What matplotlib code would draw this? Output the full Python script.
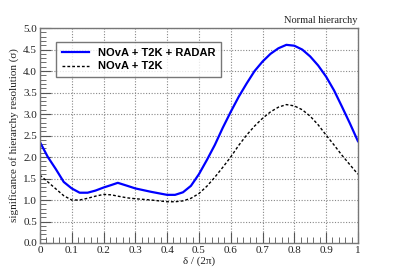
import matplotlib
matplotlib.use("Agg")
import matplotlib.pyplot as plt
from matplotlib.ticker import MultipleLocator, FormatStrFormatter

delta = [0, 0.025, 0.05, 0.075, 0.1, 0.125, 0.15, 0.175, 0.2, 0.225, 0.245, 0.275, 0.3, 0.35, 0.4,
         0.425, 0.45, 0.475, 0.5, 0.525, 0.55, 0.575, 0.6, 0.625, 0.65, 0.675, 0.7, 0.725, 0.75,
         0.775, 0.8, 0.825, 0.85, 0.875, 0.9, 0.925, 0.95, 0.975, 1.0]
radar = [2.35, 2.0, 1.72, 1.42, 1.27, 1.17, 1.17, 1.22, 1.29, 1.35, 1.40, 1.33, 1.27, 1.19, 1.12,
         1.12, 1.18, 1.33, 1.6, 1.93, 2.28, 2.68, 3.05, 3.4, 3.71, 4.0, 4.22, 4.4, 4.53,
         4.61, 4.59, 4.5, 4.34, 4.13, 3.87, 3.55, 3.17, 2.78, 2.37]
nova_t2k = [1.58, 1.42, 1.26, 1.1, 1.0, 1.0, 1.04, 1.09, 1.13, 1.12, 1.09, 1.05, 1.03, 1.0, 0.96,
            0.96, 0.98, 1.04, 1.15, 1.32, 1.53, 1.76, 2.0, 2.27, 2.51, 2.72, 2.9, 3.05, 3.16,
            3.22, 3.19, 3.1, 2.95, 2.75, 2.51, 2.28, 2.04, 1.82, 1.6]
labels = ["NOvA + T2K + RADAR", "NOvA + T2K"]

fig = plt.figure(figsize=(3.99, 2.70), dpi=100)
ax = fig.add_axes([0.1, 0.1, 0.797, 0.796])
serif = "Liberation Serif"

ax.plot(delta, radar, color="#0000ff", lw=1.6, label=labels[0])
ax.plot(delta, nova_t2k, color="black", lw=1.0, linestyle=(0, (2, 1.5)), label=labels[1])

ax.set_xlim(0, 1)
ax.set_ylim(0, 5)
ax.xaxis.set_major_locator(MultipleLocator(0.1))
ax.xaxis.set_minor_locator(MultipleLocator(0.02))
ax.yaxis.set_major_locator(MultipleLocator(0.5))
ax.yaxis.set_minor_locator(MultipleLocator(0.1))
ax.yaxis.set_major_formatter(FormatStrFormatter("%.1f"))
ax.set_xticks([0, 0.1, 0.2, 0.3, 0.4, 0.5, 0.6, 0.7, 0.8, 0.9, 1])
ax.set_xticklabels(["0", "0.1", "0.2", "0.3", "0.4", "0.5", "0.6", "0.7", "0.8", "0.9", "1"])
ax.tick_params(which="both", direction="in", color="#555555", labelsize=8, pad=2)
ax.tick_params(which="major", length=8)
ax.tick_params(which="minor", length=4)
for lab in ax.get_xticklabels() + ax.get_yticklabels():
    lab.set_fontfamily(serif)
    lab.set_color("#222222")
ax.grid(True, which="major", color="#888888", linestyle=(0, (1, 1.5)), lw=0.8)
for s in ax.spines.values():
    s.set_color("#777777")
    s.set_linewidth(1.0)

ax.set_xlabel("δ / (2π)", fontfamily=serif, fontsize=8, labelpad=1, color="#222222")
ax.set_ylabel("significance of hierarchy resolution (σ)", fontfamily=serif, fontsize=8,
              labelpad=3, color="#222222")
ax.text(1.0, 1.015, "Normal hierarchy", transform=ax.transAxes, ha="right", va="bottom",
        fontfamily=serif, fontsize=7.5, color="#222222")

leg = ax.legend(loc="upper left", bbox_to_anchor=(0.052, 0.935), frameon=True, fancybox=False,
                prop={"family": "Liberation Sans", "weight": "bold", "size": 8},
                borderpad=0.5, handlelength=2.4, handletextpad=0.8, labelspacing=0.35,
                borderaxespad=0)
leg.get_frame().set_edgecolor("#555555")
leg.get_frame().set_linewidth(1.0)

fig.savefig("out.png", dpi=100)
